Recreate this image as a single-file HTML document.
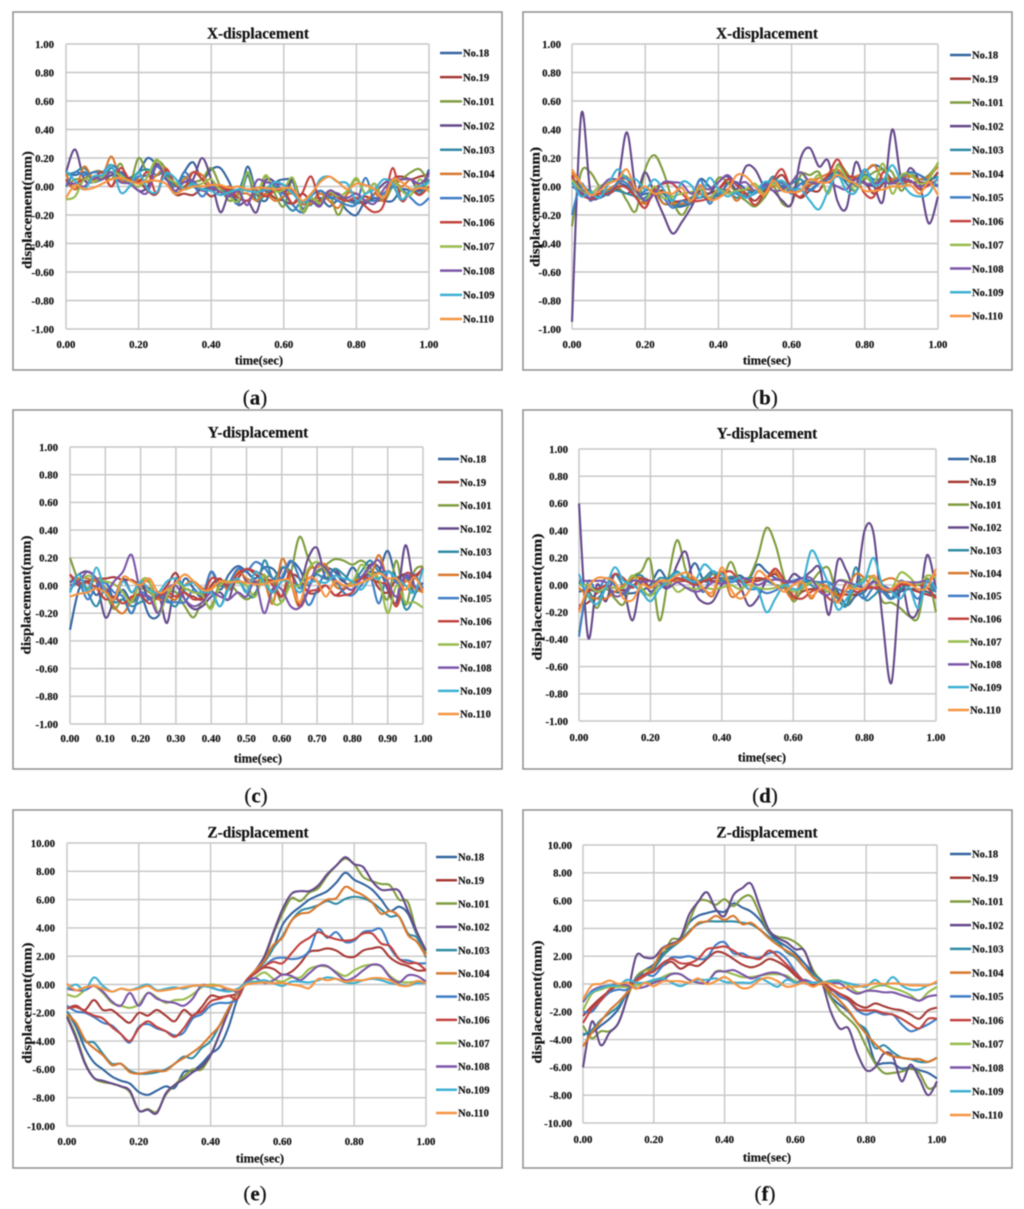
<!DOCTYPE html>
<html>
<head>
<meta charset="utf-8">
<title>Displacement charts</title>
<style>
html,body{margin:0;padding:0;background:#fff;}
#figure{display:block;width:1024px;height:1209px;}
text{font-family:"Liberation Serif",serif;fill:#111;font-weight:bold;stroke:#111;stroke-width:.18px;}
</style>
</head>
<body>
<svg id="figure" xmlns="http://www.w3.org/2000/svg" width="1024" height="1209" viewBox="0 0 1024 1209"></svg>
<script>
const seriesLabels=["No.18","No.19","No.101","No.102","No.103","No.104","No.105","No.106","No.107","No.108","No.109","No.110"];
const seriesColors=["#34659f","#a63a36","#7f9c3e","#65498a","#2f8ba6","#d9782c","#3f7dc6","#c4423e","#98bb4c","#7c56a8","#3db0d3","#f79440"];
const unitTicks=[-1,-0.8,-0.6,-0.4,-0.2,0,0.2,0.4,0.6,0.8,1];
const zTicks=[-10,-8,-6,-4,-2,0,2,4,6,8,10];
const timeTicks=[0,0.2,0.4,0.6,0.8,1];
const timeTicksFine=[0,0.1,0.2,0.3,0.4,0.5,0.6,0.7,0.8,0.9,1];

const a18=[.1,.08,.1,.05,.08,.1,.03,.06,.1,.2,.15,.08,0,.1,.17,.05,.12,.13,.03,-.1,.14,-.05,-.1,.02,.05,.03,-.15,-.1,-.08,-.14,-.1,-.17,-.2,-.1,-.08,-.1,-.1,-.02,-.03,-.02,.12];
const a19=[.05,-.02,.05,.1,.1,0,.1,.05,.04,-.03,-.05,.12,-.05,-.05,-.06,-.02,-.07,-.03,-.02,-.08,-.1,-.05,-.03,-.08,-.1,-.12,-.05,-.1,-.1,-.03,-.08,-.1,-.1,-.07,-.1,-.08,.05,.07,.05,.07,.08];
const a101=[0,.05,.05,.1,.1,.05,.16,.02,.2,.1,.18,.12,-.05,0,.03,.05,.13,0,-.1,-.05,.08,-.1,.07,-.05,-.14,.05,-.18,-.1,-.1,-.05,-.2,-.05,.05,-.05,.02,-.1,0,.05,.1,.12,.03];
const a102=[.1,.26,.05,.03,.05,.08,.1,.05,-.03,0,.16,.05,.02,.03,.05,.2,.05,-.18,-.05,-.13,-.1,-.18,.04,.03,-.05,.05,-.12,-.1,-.13,-.05,-.05,-.1,-.1,-.12,-.05,.02,.05,.05,.05,-.03,.1];
const a103=[.08,.1,.13,.05,.05,.13,.05,.03,.1,.12,.08,.1,0,.07,0,-.02,0,-.03,-.03,-.03,.1,-.1,-.05,0,-.1,-.17,-.1,-.13,-.03,-.08,-.07,-.1,-.12,-.1,-.1,-.08,0,-.1,-.02,-.05,.05];
const a104=[.09,-.02,.14,.05,.07,.21,.05,.03,.05,.03,.08,.13,.02,.05,.1,.08,0,-.03,0,-.05,-.05,-.1,-.05,-.1,-.07,-.05,-.12,-.12,-.05,-.1,-.15,-.05,-.05,-.1,-.05,-.1,.03,0,.05,0,-.02];
const a105=[0,.1,.08,.1,.1,.15,.1,.03,.07,.08,.14,.07,-.05,.1,.02,-.07,0,-.03,-.05,-.12,.08,-.03,-.02,.03,-.05,-.13,-.18,-.07,-.03,-.07,-.1,-.13,-.12,.06,-.1,-.05,0,-.02,-.08,-.13,-.08];
const a106=[.02,.02,.05,.05,.1,0,.13,.05,.03,.1,-.05,.12,.02,-.02,.1,.05,-.02,0,-.04,-.08,-.1,-.03,-.07,-.03,-.03,-.12,-.05,.07,-.1,-.05,-.08,-.1,-.08,-.14,-.18,-.13,.13,-.1,-.03,-.06,0];
const a107=[-.09,-.07,.05,.03,.07,.1,.08,.03,0,.07,.19,.07,.03,-.02,0,.02,.05,-.03,-.07,-.1,.1,-.05,.08,-.03,-.02,.06,-.17,-.08,-.12,-.04,-.07,-.03,.06,-.05,.02,-.08,.05,-.03,-.06,.05,-.04];
const a108=[.02,.02,0,.06,.05,.1,.03,.02,-.03,-.04,.15,.06,-.03,.03,.04,-.03,-.01,-.04,-.07,-.03,-.13,.04,.03,.02,.01,-.03,-.1,-.1,-.14,-.03,-.06,-.08,-.05,-.1,-.12,-.02,.05,.05,.05,.02,.08];
const a109=[.11,.04,-.02,.07,.08,.15,-.04,0,.1,-.02,-.04,.09,.06,-.02,.02,-.02,-.03,-.06,-.04,-.02,-.03,-.04,-.02,.03,.01,-.05,-.11,-.07,.05,.07,.03,.02,-.1,-.05,-.02,.05,.02,-.09,-.03,0,.03];
const a110=[-.08,.01,-.02,-.01,.02,.05,.06,.04,.02,.04,.04,.02,-.05,-.02,0,0,.01,.01,-.01,0,-.02,-.01,-.01,-.02,-.01,-.02,-.1,-.05,.03,.07,.03,-.02,.02,.01,-.02,-.08,.05,.03,-.02,-.01,-.02];

const b18=[.06,-.02,-.05,-.08,-.04,.02,0,-.07,-.05,-.05,-.05,-.13,-.14,-.1,.05,0,-.07,.02,.03,-.02,-.03,.02,.03,0,-.02,.02,.05,.03,.07,.1,.04,.05,.1,.15,.12,.05,.05,.1,.08,.05,.07];
const b19=[.08,-.05,-.08,-.03,-.05,-.02,-.05,-.02,-.12,-.05,-.03,-.1,-.1,-.08,-.08,-.05,-.02,.03,-.03,-.05,-.1,-.03,.03,.08,-.02,-.08,-.03,-.03,.08,.12,.05,.05,.03,-.05,.02,.05,.05,.03,.03,.03,.1];
const b101=[-.28,.1,.1,0,-.05,0,-.1,-.17,.12,.22,.1,-.1,-.2,-.1,-.02,-.05,.06,.03,-.05,-.1,-.14,-.08,0,-.12,-.12,.08,.08,.1,-.05,.15,.1,0,.05,.1,.12,.1,-.03,.08,.05,.08,.16];
const b102=[-.95,.5,-.03,-.08,-.02,.03,.38,-.02,.1,-.05,-.2,-.33,-.25,-.15,-.03,-.05,.03,.07,-.02,.14,.12,0,-.03,-.1,-.12,.2,.27,.14,.18,-.1,-.15,.17,.02,0,-.1,.4,.05,.13,.02,-.26,-.07];
const b103=[.05,0,-.03,-.07,-.03,-.03,-.05,-.07,-.08,-.02,-.12,-.12,-.13,-.08,-.05,-.1,-.05,-.03,-.08,-.05,-.04,-.02,.07,-.02,.02,.05,-.02,.03,.05,.1,.02,-.03,.08,.05,.05,.03,.07,.07,.05,.05,.07];
const b104=[.1,.02,-.05,-.05,-.02,.02,.05,-.08,-.12,-.05,-.12,-.12,-.12,-.11,-.05,-.08,-.08,-.02,-.1,-.02,-.03,-.05,0,.03,-.03,-.03,.02,.06,.09,.12,.05,.07,.1,.15,.05,.05,.07,.07,.05,.07,.14];
const b105=[-.2,.02,-.1,-.03,-.06,.03,.02,-.07,-.03,-.03,-.08,-.15,-.1,-.12,.05,-.12,-.02,-.04,-.05,-.07,-.05,0,.03,.02,-.05,.02,-.03,.02,.05,.07,.07,.02,.12,.03,.05,.02,.07,.1,.08,.03,0];
const b106=[.07,-.03,-.09,-.05,-.05,0,-.01,-.08,-.15,-.02,.02,.02,-.05,-.1,-.1,-.08,-.02,.05,.01,-.05,-.13,-.05,.05,.12,-.03,-.07,.01,.03,.08,.19,.08,.06,-.05,-.07,.1,.03,.02,.04,-.02,.01,.05];
const b107=[.05,-.03,-.05,0,.03,.05,.07,-.04,-.1,0,-.08,-.07,-.05,-.04,-.02,-.08,-.02,-.05,-.03,-.02,.02,-.05,.02,-.03,.03,.1,.02,.08,-.05,.14,.06,-.03,.07,.02,.16,-.05,.08,.08,.02,.05,.17];
const b108=[0,-.04,-.08,-.02,.05,.05,.06,-.03,-.1,-.05,.03,.03,.02,-.05,0,-.02,.03,.08,.02,.03,-.03,.02,-.03,-.02,.03,.1,.03,.03,.03,0,-.02,.05,.02,.02,.03,.02,.05,.04,0,.02,.01];
const b109=[.03,-.07,-.04,-.08,.02,.12,.05,.05,-.02,.05,-.02,-.1,.03,.01,-.08,.06,-.02,-.07,-.04,-.08,-.04,.03,.03,.04,-.02,-.02,-.1,-.16,-.03,.08,-.03,-.04,.12,.01,.04,.15,.03,-.05,-.07,-.05,.07];
const b110=[.12,.02,-.06,-.03,.02,.05,.12,-.02,0,-.05,-.04,-.05,-.01,-.1,.01,-.09,-.08,-.03,.08,.07,0,-.06,.04,-.03,-.04,-.03,.05,.03,.03,.08,.05,.02,-.03,-.03,-.02,0,0,.01,-.05,.03,-.06];

const c18=[-.32,-.03,.03,-.07,.03,-.1,-.03,-.12,-.07,-.22,-.22,-.08,-.1,.05,-.02,-.08,.1,-.03,.08,.14,.1,.05,.13,.12,.05,.17,.12,0,.1,.13,.1,.03,.13,.05,.1,.1,.25,.05,.08,-.05,.02];
const c19=[.08,0,.03,.05,.05,.06,.04,.04,0,-.02,-.07,0,.09,-.05,-.08,-.1,0,.05,-.03,.05,.12,.08,.04,.03,-.08,.07,.05,-.05,-.05,0,-.07,-.03,.02,.05,.08,-.02,-.05,.05,.08,.05,.13];
const c101=[.2,.03,-.02,.05,-.05,-.17,-.1,-.2,-.03,-.05,-.1,-.05,-.05,-.15,-.23,-.12,-.15,.02,.02,-.05,-.1,-.05,.05,.05,-.12,.08,.35,.2,.1,.15,.19,.18,.15,.18,.13,.03,-.1,.18,-.14,.1,.14];
const c102=[.02,.08,.1,.03,-.23,-.1,.05,-.05,.02,-.1,-.05,-.27,.05,-.1,-.17,-.15,-.08,-.05,-.1,.12,.03,.02,.03,-.05,.12,.1,0,.2,.27,.05,.12,.03,0,.05,.15,.13,-.03,-.12,.29,0,-.03];
const c103=[-.05,.08,-.05,-.15,-.02,-.12,-.1,-.15,-.12,-.1,-.05,-.1,-.15,-.03,-.05,-.05,-.03,-.15,0,.05,-.05,-.07,.18,.05,.13,.1,-.02,.05,.08,.05,.12,.08,.03,.1,.18,.1,.1,.05,-.17,-.08,.12];
const c104=[-.03,.05,.05,.03,-.02,-.15,-.2,-.1,.02,.02,-.1,-.08,-.1,0,.03,-.02,-.02,.03,-.03,.1,.05,.03,.03,-.13,.19,.03,-.15,.1,.13,.15,0,-.02,.03,.05,.05,.22,.02,-.15,.03,-.02,-.05];
const c105=[-.03,.02,-.1,0,.02,-.05,-.08,-.2,-.05,-.1,-.07,-.12,-.12,-.12,-.03,-.07,.1,0,.02,.12,.1,.17,.13,.05,.06,.18,.05,-.14,-.03,.1,.05,-.05,-.07,0,.07,-.13,.1,.02,.05,.08,-.02];
const c106=[.08,.02,.02,-.02,-.1,-.08,-.13,-.08,-.07,-.13,-.08,-.05,-.08,-.05,-.1,-.08,.05,.03,0,.08,.12,.1,.07,0,-.08,.1,-.15,-.05,-.03,0,-.07,-.07,-.05,.05,.05,.02,0,-.15,.08,.07,.12];
const c107=[0,.03,.07,.05,.03,.01,-.05,-.12,.03,.03,-.2,-.07,.02,-.02,-.05,-.07,-.17,0,.03,.02,0,-.08,.08,-.12,-.12,0,0,.12,.17,.1,.02,0,.02,.15,.08,.05,-.2,0,-.12,-.12,-.16];
const c108=[0,.03,.1,.05,-.05,.03,.1,.22,-.05,-.08,-.2,-.03,0,-.1,-.15,-.12,-.05,-.08,-.1,-.05,-.08,.03,-.2,-.02,-.03,-.15,-.16,-.03,.15,.12,.03,0,-.03,.06,.13,.18,.03,-.08,.08,0,-.03];
const c109=[-.05,.08,-.05,.13,-.05,-.1,.03,-.05,.03,-.03,-.05,.03,.05,0,.02,-.05,-.05,-.15,-.02,.05,-.05,.1,.02,-.05,.03,.02,-.05,.02,.03,.02,.07,.05,.03,-.03,.05,.05,.1,.05,0,-.05,.12];
const c110=[-.08,-.06,-.05,-.02,-.05,-.1,.06,.03,0,.05,-.05,-.03,.02,.08,.03,-.03,-.03,.03,.02,.03,.02,.01,.01,.03,.04,.03,-.12,.05,.03,-.08,.03,0,0,.02,.05,.09,.05,.05,-.03,.06,-.04];

const d18=[-.05,-.03,-.05,-.03,-.05,-.06,-.06,-.04,0,.11,.03,.05,.05,.16,.03,.05,.05,.05,.07,.04,.15,.1,.05,.03,.03,.05,.03,.02,.02,-.05,-.15,-.08,-.05,.03,-.02,-.1,-.05,-.03,-.03,-.05,-.08];
const d19=[-.15,-.13,-.06,-.03,-.02,-.04,-.01,.05,.03,.02,.03,.03,.03,.03,.03,.03,.03,.06,.03,.03,.03,.05,.08,0,-.1,-.05,-.03,-.03,-.05,-.07,-.07,-.07,-.02,-.02,-.05,-.05,-.03,-.03,-.05,-.07,-.09];
const d101=[-.35,-.05,-.17,-.03,-.1,-.14,.05,.1,.18,-.26,.05,.33,.1,0,.03,.08,.03,.17,.03,.05,.2,.42,.3,.05,-.12,-.03,.02,.1,.12,-.1,-.15,0,.05,.05,-.12,-.13,-.17,-.23,-.24,.05,-.2];
const d102=[.6,-.38,0,-.12,.08,-.03,-.26,.03,-.05,0,-.02,.15,.24,-.05,-.13,-.12,0,.05,0,-.15,-.1,.03,0,-.02,.08,.05,.1,.12,-.22,.18,.1,-.02,.4,.38,-.25,-.72,0,-.22,-.18,.22,-.03];
const d103=[.02,-.05,-.1,-.02,.08,0,.05,.07,-.02,.05,.05,.1,.03,.02,.05,.1,.03,.06,.05,.05,.05,.03,0,-.02,-.1,.02,0,-.05,-.05,-.1,-.15,.13,-.1,-.08,-.02,-.1,-.03,0,0,-.02,-.05];
const d104=[-.02,-.08,-.1,-.1,-.05,0,.05,.05,-.02,.03,.03,.03,.05,.04,-.03,-.08,.1,-.08,-.05,.03,.05,.05,.1,-.02,-.1,.03,-.1,0,-.02,-.08,-.03,.08,.05,-.02,.03,.05,.02,0,0,.03,.08];
const d105=[-.38,.02,-.05,.05,0,-.07,0,-.05,-.07,0,.03,.05,.03,.02,-.05,.1,.03,.02,.03,-.03,-.03,-.06,-.04,0,.03,.05,.02,.02,.02,-.03,-.05,-.05,-.1,-.02,-.05,-.1,.03,-.02,-.1,.02,-.05];
const d106=[-.18,-.05,-.03,0,.08,.05,-.02,.05,-.02,.03,.02,.05,.03,0,.03,.05,.08,.1,.03,.02,.05,.05,.12,.03,-.08,-.1,-.05,-.03,-.1,-.12,.02,-.05,-.03,-.02,-.03,-.05,0,0,0,-.02,-.1];
const d107=[0,0,-.05,-.02,-.02,-.02,.07,-.02,-.08,0,.03,-.05,-.02,-.03,-.02,-.03,-.02,0,-.03,0,-.02,-.03,-.02,0,-.05,-.02,.02,0,-.05,.03,.03,-.02,.05,.05,-.02,-.03,.09,.06,0,.07,.05];
const d108=[.03,.03,.03,.02,-.08,-.06,.03,.02,.03,.02,-.02,.02,-.02,-.05,-.03,.02,.01,.03,.05,.04,0,.03,.04,.03,.02,.05,.05,-.05,-.07,.03,.02,0,-.02,.02,0,-.03,.02,.02,.02,.03,0];
const d109=[.08,-.08,-.14,-.02,.13,.03,0,-.05,-.12,-.03,.03,.09,.05,.03,.15,.1,.08,.03,.05,-.03,-.03,-.2,-.1,0,-.03,0,.25,.15,0,-.18,-.1,0,.03,.2,0,-.05,-.1,-.02,-.17,.03,-.03];
const d110=[-.2,-.02,.05,.05,.02,-.1,-.11,0,-.02,.03,.03,.07,.09,.05,-.03,-.05,.13,-.03,-.1,-.05,.1,.06,0,-.05,0,.02,-.08,-.03,-.03,-.13,-.03,-.03,-.02,.07,-.02,-.03,.02,.01,-.03,-.02,.12];

const e18=[-1.9,-3,-4.5,-5.5,-6,-6.5,-6.8,-7,-7.6,-7.8,-7.5,-7.2,-7.3,-6.2,-6.1,-5.6,-4.9,-4.4,-3,-1,.2,.9,1.6,2.6,4.2,5,5.5,6,6.3,6.6,7.2,7.9,7.4,7.1,6.7,6,5.2,5.5,5,3.5,2.2];
const e19=[-1.7,-1.5,-1.8,-1.1,-1.8,-1.8,-2.3,-2.7,-2,-2.2,-1.8,-2.2,-2.6,-1.8,-2.2,-1.6,-.8,-.9,-.8,-.6,.3,.8,1.2,1.1,.7,.9,1.5,2.3,2.4,2.55,2.4,2,1.95,2.4,2.55,2.6,1.9,1.5,1.3,1,1];
const e101=[-2.2,-3.6,-5.5,-6.6,-6.9,-7,-7.2,-7.6,-8.9,-8.8,-9,-7.8,-7.1,-6.5,-6,-6,-5,-3.5,-1.8,-.6,.2,.9,1.8,3.6,5,6.1,5.9,6.5,6.8,7.7,8.4,8.9,8.5,7.6,7.3,7.1,7,6,5.8,3.6,2.2];
const e102=[-2.3,-3.8,-5.6,-6.6,-6.8,-7,-7.2,-7.5,-8.9,-8.85,-9.1,-7.7,-7.1,-6.7,-6.2,-5.8,-5,-3.5,-1.9,-.5,.2,1,2,3.7,5.3,6.4,6.6,6.6,7,7.8,8.4,9,8.5,8.3,7.3,6.7,6.7,6.6,5.2,3.7,2.4];
const e103=[-1.9,-2.8,-4,-4.1,-4.9,-5.6,-5.6,-6.1,-6.3,-6.3,-6.2,-6,-5.6,-5.1,-5.2,-4.5,-4,-2.9,-1.7,-.6,.3,1,1.6,2.6,3.4,4.5,5.2,5.4,5.6,5.9,5.7,6.05,6.2,6.1,5.8,5.3,4.8,4.8,3.6,3.3,1.9];
const e104=[-2.1,-2.7,-3.9,-4.5,-5,-5.7,-5.6,-6.2,-6.3,-6.2,-6.1,-6.1,-5.6,-5.2,-4.8,-4.3,-3.6,-2.9,-1.7,-.6,.3,1,1.7,2.8,3.3,4.5,5,5.1,5.6,6,6.1,6.9,6.6,6.3,5.8,5,5.2,4.8,3.5,3,2];
const e105=[-1.5,-1.9,-2,-2.3,-2.7,-2.9,-3.5,-4.1,-3,-2.8,-3.1,-3.3,-3.6,-3.4,-2.4,-2.1,-1.5,-1.3,-1.3,-1,.2,.8,1.3,1.8,1.9,1.8,1.9,2.4,3.9,3.3,3.7,3,3.1,3.7,3.8,3.9,2.6,1.8,1.7,1.5,1.5];
const e106=[-1.7,-1.6,-1.9,-2.2,-2.4,-3,-3.5,-4,-3.1,-2.6,-3,-3.3,-3.7,-3.1,-2.2,-1.9,-1.2,-1,-.8,-1,.3,.8,1.3,1.6,1.5,2.2,2.9,3.3,3.7,3.4,3.2,3.1,3.2,3.6,3.6,2.9,2.7,1.8,1.5,1.5,1];
const e107=[-.7,-.85,-.4,-.1,-.6,-1.3,-1.5,-1.65,-1.4,-.6,-.9,-1.3,-1.1,-1.05,-.7,-.2,0,-.1,-.4,-.4,.1,.5,.85,.4,.2,.5,.5,1.1,1.3,1.25,.9,.6,1,1.3,1.4,1.3,.6,.2,.15,.2,.15];
const e108=[-.3,-.4,-.4,-.1,-.5,-1.2,-1.5,-.6,-1.5,-.6,-1,-1.2,-1.3,-1.5,-1,-.05,-.2,-.4,-.3,-.5,.2,.45,.1,.3,.7,.6,.3,.8,1.3,1.3,.8,.3,.5,1,1.4,1.3,.5,.15,.65,.6,.2];
const e109=[-.3,0,-.4,.5,-.1,-.5,-.3,-.4,-.2,0,-.4,-.3,-.2,-.3,-.1,-.1,-.2,-.4,-.5,-.3,.1,.2,.3,.1,-.1,.2,.2,.15,.3,.5,.4,.15,.1,.3,.4,.3,.1,0,-.1,.1,.1];
const e110=[.05,-.4,-.2,-.1,-.3,-.5,-.3,-.4,-.3,-.1,-.45,-.4,-.3,-.2,-.1,-.05,-.1,-.1,-.3,-.4,0,.1,.15,.1,.1,0,-.1,-.25,.4,.3,.4,.2,.3,.3,.45,.45,.3,-.05,-.1,.25,.1];

const f18=[-3.6,-3.5,-3,-2.5,-1.8,-.6,.3,1,1.4,2.2,2.7,3.2,4.4,4.9,5.1,5.25,5.2,5.8,5.5,5.2,4.6,3.7,3.1,2.7,2.2,1.5,.8,.2,-.9,-1.5,-2,-2.8,-3.6,-5.6,-5.7,-5.7,-6.1,-6,-6.2,-6.4,-6.8];
const f19=[-2.3,-1.6,-1,-.5,-.1,-.2,.2,.6,1,1.3,1.6,1.1,1.4,1.3,1.8,2.3,2.2,1.8,1.4,1.2,1.4,1.8,1.6,1.2,.6,.1,-.1,0,-.4,-.7,-1,-1.5,-1.7,-1.4,-1.6,-1.8,-1.9,-2.2,-2.5,-1.9,-1.7];
const f101=[-3,-3.9,-3.4,-3.4,-2.8,-1,.5,1,1.2,2,3.2,3.3,4.5,5.9,6,5.7,6.1,5.6,6.2,6.3,5,3.8,3.4,3.3,3,2.4,1,.1,-1,-1.9,-2.5,-3.2,-4.5,-5.7,-6.4,-6.4,-6.3,-6.1,-6.4,-7.5,-7.3];
const f102=[-6,-2.7,-4.4,-3.5,-2.8,-.9,2,1.9,1.9,2.6,2.9,3.3,5,5.9,6.6,5.4,4.9,6.4,6.9,7.2,5.5,3.9,3.3,3,2.5,2.4,.8,.1,-2,-3.2,-3.2,-5,-6.2,-6,-5,-5.2,-7,-5.8,-6.8,-8,-7];
const f103=[-3.7,-3.3,-2.6,-2.1,-1.6,-.6,.3,.7,1.1,2,2.6,3.1,3.8,4.3,4.5,4.5,4.5,4.5,4.4,4.3,3.9,3.4,3,2.3,1.9,1.2,.7,.2,-.6,-1.2,-1.9,-2.8,-3.3,-4.6,-4.4,-4.9,-5.3,-5.4,-5.6,-5.6,-5.3];
const f104=[-4.5,-3.5,-2.7,-1.9,-1.3,-.6,.2,.7,1.3,2.5,2.8,3.1,3.7,4.4,4.5,4.9,4.6,4.9,4.3,4.4,3.9,3.3,2.8,2.4,2,1.2,.5,0,-.6,-1.2,-1.9,-2.8,-3.6,-4.3,-4.9,-5.2,-5.3,-5.4,-5.4,-5.6,-5.3];
const f105=[-2,-2,-1.2,-.6,-.4,-.4,.4,.7,.6,1.3,1.9,1.9,2,1.8,1.9,2.8,3,2.2,2.2,1.9,1.9,2.2,2.3,1.8,.9,.2,.1,.1,-.3,-.9,-1.2,-1.9,-2.2,-2,-2.2,-2.2,-2.9,-3.4,-3.2,-2.9,-2.5];
const f106=[-2.8,-1.8,-1.2,-.4,-.1,-.2,.3,.7,.9,1.5,1.8,1.5,1.5,1.8,2.5,2.6,2.7,2.4,2,1.9,1.8,2.4,2,1.4,.8,.2,-.1,.1,-.3,-.7,-1.1,-1.8,-1.9,-1.9,-2.1,-2.2,-2.5,-2.9,-3.2,-2.5,-2.5];
const f107=[-1.9,-.7,-.4,-.2,-.2,-.2,-.1,.1,.2,.5,.75,.7,.3,.1,.1,.9,.9,.7,.5,.5,.6,.7,.7,.6,.2,.1,.1,.1,.25,.25,-.1,-.6,-.5,-.2,-.1,-.3,-.5,-.8,-1.2,-.6,-.2];
const f108=[-1.3,-.5,-.2,-.1,0,-.1,-.3,-.2,.1,.3,.7,.7,.3,.1,.1,.85,.9,1,.7,.4,.6,.8,.8,.5,.1,.3,.1,.1,.05,.05,-.4,-.7,-.5,-.5,-.6,-.6,-.8,-1,-1.2,-.9,-.8];
const f109=[-1.1,-.6,-.3,-.1,-.1,.3,.1,.1,.3,.4,.1,-.15,.1,.3,.3,.4,.15,.1,.1,.1,.4,.1,-.2,.3,.1,.1,.1,.1,.2,.2,.05,-.1,-.2,.3,-.1,.5,-.1,-.4,-.4,-.1,.1];
const f110=[-1.1,-.1,0,.25,0,.1,-.35,.1,-.15,.2,.2,.2,.1,.4,0,.2,.5,.1,-.3,-.2,.3,.45,.2,-.2,-.1,.1,-.2,.1,0,-.3,-.2,-.2,-.1,.05,0,.05,0,-.1,-.1,-.1,.2];

const panelA={id:"a",title:"X-displacement",yT:unitTicks,xT:timeTicks,series:[a18,a19,a101,a102,a103,a104,a105,a106,a107,a108,a109,a110],frame:[13,12,502,370],plot:[66,44,429,329],titleAt:[258,33],tickR:54,xLab:344,xTitle:[259,360],yTitle:[27,210,118],legend:[440,462,53,319],cap:[255,397]};
const panelB={id:"b",title:"X-displacement",yT:unitTicks,xT:timeTicks,series:[b18,b19,b101,b102,b103,b104,b105,b106,b107,b108,b109,b110],frame:[523,12,1012,370],plot:[572,44,938,329],titleAt:[767,33],tickR:561,xLab:344,xTitle:[767,360],yTitle:[535,207,120],legend:[950,971,55,316],cap:[765,397]};
const panelC={id:"c",title:"Y-displacement",yT:unitTicks,xT:timeTicksFine,series:[c18,c19,c101,c102,c103,c104,c105,c106,c107,c108,c109,c110],frame:[13,410,502,769],plot:[70,447,423,724],titleAt:[258,432],tickR:58,xLab:738,xTitle:[258,758],yTitle:[26,595,119],legend:[438,459,459,714],cap:[256,795]};
const panelD={id:"d",title:"Y-displacement",yT:unitTicks,xT:timeTicks,series:[d18,d19,d101,d102,d103,d104,d105,d106,d107,d108,d109,d110],frame:[523,410,1012,769],plot:[579,449,936,721],titleAt:[767,433],tickR:568,xLab:737,xTitle:[762,757],yTitle:[537,597,127],legend:[948,969,459,710],cap:[765,795]};
const panelE={id:"e",title:"Z-displacement",yT:zTicks,xT:timeTicks,series:[e18,e19,e101,e102,e103,e104,e105,e106,e107,e108,e109,e110],frame:[13,810,502,1168],plot:[67,843,426,1126],titleAt:[258,832],tickR:55,xLab:1141,xTitle:[260,1158],yTitle:[27,1003,121],legend:[436,457,857,1113],cap:[255,1193]};
const panelF={id:"f",title:"Z-displacement",yT:zTicks,xT:timeTicks,series:[f18,f19,f101,f102,f103,f104,f105,f106,f107,f108,f109,f110],frame:[523,810,1012,1168],plot:[583,845,937,1123],titleAt:[767,832],tickR:572,xLab:1139,xTitle:[767,1157],yTitle:[537,1002,123],legend:[950,971,854,1115],cap:[765,1193]};
const panels=[panelA,panelB,panelC,panelD,panelE,panelF];

const NS="http://www.w3.org/2000/svg";
const root=document.getElementById("figure");

function mk(parent,tag,attrs,txt){
  const el=document.createElementNS(NS,tag);
  for(const k in attrs){el.setAttribute(k,attrs[k]);}
  if(txt!==undefined){el.textContent=txt;}
  parent.appendChild(el);
  return el;
}
function smoothPath(pts){
  let d="M"+pts[0][0].toFixed(2)+" "+pts[0][1].toFixed(2);
  for(let i=0;i<pts.length-1;i++){
    const p0=pts[Math.max(i-1,0)],p1=pts[i],p2=pts[i+1],p3=pts[Math.min(i+2,pts.length-1)];
    const c1x=p1[0]+(p2[0]-p0[0])/6,c1y=p1[1]+(p2[1]-p0[1])/6;
    const c2x=p2[0]-(p3[0]-p1[0])/6,c2y=p2[1]-(p3[1]-p1[1])/6;
    d+="C"+c1x.toFixed(2)+" "+c1y.toFixed(2)+" "+c2x.toFixed(2)+" "+c2y.toFixed(2)+" "+p2[0].toFixed(2)+" "+p2[1].toFixed(2);
  }
  return d;
}
function drawPanel(p){
  const [L,T,R,B]=p.plot;
  const yMin=p.yT[0],yMax=p.yT[p.yT.length-1];
  const xScale=function(t){return L+(R-L)*t;};
  const yScale=function(v){return B-(B-T)*(v-yMin)/(yMax-yMin);};

  const g=mk(root,"g",{style:"filter:blur(0.4px)"});
  
  

  const frame=mk(g,"rect",{x:p.frame[0],y:p.frame[1],width:p.frame[2]-p.frame[0],height:p.frame[3]-p.frame[1],fill:"#fff",stroke:"#8f8f8f","stroke-width":1.5});
  
  

  const title=mk(g,"text",{x:p.titleAt[0],y:p.titleAt[1],"text-anchor":"middle",dy:".35em","font-size":15.3},p.title);
  
  

  p.yT.forEach(function(v){
    const y=yScale(v);
    const line=mk(g,"line",{x1:L,x2:R,y1:y,y2:y,stroke:"#c6c6c6","stroke-width":1.4});
    
    
    const lab=mk(g,"text",{x:p.tickR,y:y,"text-anchor":"end",dy:".35em","font-size":10.8},v.toFixed(2));
    
    
  });
  p.xT.forEach(function(t){
    const x=xScale(t);
    const line=mk(g,"line",{x1:x,x2:x,y1:T,y2:B,stroke:"#c6c6c6","stroke-width":1.4});
    
    
    const lab=mk(g,"text",{x:x,y:p.xLab,"text-anchor":"middle",dy:".35em","font-size":10.8},t.toFixed(2));
    
    
  });

  const xt=mk(g,"text",{x:p.xTitle[0],y:p.xTitle[1],"text-anchor":"middle",dy:".35em","font-size":12.6},"time(sec)");
  
  

  const yt=mk(g,"text",{transform:"translate("+p.yTitle[0]+" "+p.yTitle[1]+") rotate(-90)","text-anchor":"middle",dy:".35em","font-size":13.5,textLength:p.yTitle[2],lengthAdjust:"spacingAndGlyphs"},"displacement(mm)");
  
  

  p.series.forEach(function(vals,s){
    const pts=vals.map(function(v,i){return [xScale(i/(vals.length-1)),yScale(v)];});
    const path=mk(g,"path",{d:smoothPath(pts),fill:"none",stroke:seriesColors[s],"stroke-width":2.1,"stroke-linejoin":"round"});
    
    
  });

  seriesLabels.forEach(function(name,s){
    const y=p.legend[2]+(p.legend[3]-p.legend[2])*s/(seriesLabels.length-1);
    const key=mk(g,"line",{x1:p.legend[0],x2:p.legend[1],y1:y,y2:y,stroke:seriesColors[s],"stroke-width":2.5});
    
    
    const lab=mk(g,"text",{x:p.legend[1]+1,y:y,dy:".35em","font-size":10.6},name);
    
    
  });

  const cap=mk(g,"text",{x:p.cap[0],y:p.cap[1],"text-anchor":"middle",dy:".35em","font-size":21,"font-weight":"normal"});
  
  
  mk(cap,"tspan",{"font-weight":"normal"},"(");
  mk(cap,"tspan",{"font-weight":"bold"},p.id);
  mk(cap,"tspan",{"font-weight":"normal"},")");
}
panels.forEach(drawPanel);
</script>
</body>
</html>
